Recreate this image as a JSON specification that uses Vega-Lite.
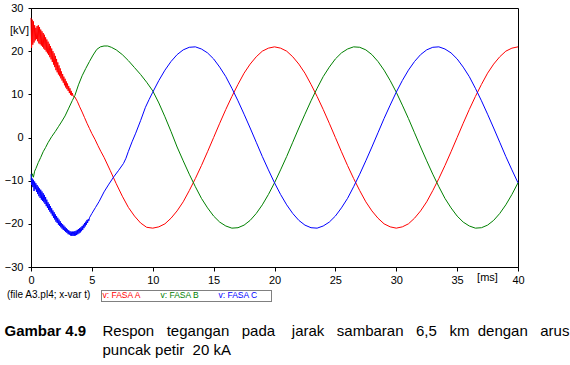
{
  "$schema": "https://vega.github.io/schema/vega-lite/v6.json",
  "width": 487,
  "height": 259,
  "autosize": {"type": "none"},
  "padding": {"left": 31, "top": 8, "right": 52, "bottom": 98},
  "background": "white",
  "config": {
    "view": {"stroke": "black", "strokeWidth": 1},
    "font": "Liberation Sans",
    "axis": {"labelFont": "Liberation Sans", "labelFontSize": 11, "labelColor": "black", "tickColor": "black", "domainColor": "black", "grid": false, "titleColor": "black", "titleFont": "Liberation Sans"}
  },
  "title": {"text": "(file A3.pl4; x-var t)", "orient": "top", "anchor": "start", "frame": "group", "dx": -24, "dy": 306, "offset": 0, "baseline": "alphabetic", "font": "Liberation Sans", "fontSize": 10, "fontWeight": "normal", "color": "black"},
  "datasets": {
    "w": [
      {"t":0,"v":27.7,"s":"A"},{"t":0.05,"v":20.8,"s":"A"},{"t":0.1,"v":27.3,"s":"A"},{"t":0.15,"v":21.5,"s":"A"},{"t":0.2,"v":26.9,"s":"A"},{"t":0.25,"v":22.0,"s":"A"},{"t":0.3,"v":26.0,"s":"A"},{"t":0.35,"v":22.5,"s":"A"},{"t":0.4,"v":25.4,"s":"A"},{"t":0.45,"v":22.8,"s":"A"},{"t":0.5,"v":25.8,"s":"A"},{"t":0.55,"v":22.3,"s":"A"},{"t":0.6,"v":26.0,"s":"A"},{"t":0.65,"v":21.8,"s":"A"},{"t":0.7,"v":25.6,"s":"A"},{"t":0.75,"v":21.6,"s":"A"},{"t":0.8,"v":25.0,"s":"A"},{"t":0.85,"v":21.3,"s":"A"},{"t":0.9,"v":24.6,"s":"A"},{"t":0.95,"v":21.0,"s":"A"},{"t":1.0,"v":24.2,"s":"A"},{"t":1.05,"v":20.6,"s":"A"},{"t":1.1,"v":23.8,"s":"A"},{"t":1.15,"v":20.3,"s":"A"},{"t":1.2,"v":23.2,"s":"A"},{"t":1.25,"v":19.9,"s":"A"},{"t":1.3,"v":22.7,"s":"A"},{"t":1.35,"v":19.5,"s":"A"},{"t":1.4,"v":22.2,"s":"A"},{"t":1.45,"v":19.1,"s":"A"},{"t":1.5,"v":21.7,"s":"A"},{"t":1.55,"v":18.6,"s":"A"},{"t":1.6,"v":21.2,"s":"A"},{"t":1.65,"v":18.1,"s":"A"},{"t":1.7,"v":20.6,"s":"A"},{"t":1.75,"v":17.5,"s":"A"},{"t":1.8,"v":20.0,"s":"A"},{"t":1.85,"v":16.9,"s":"A"},{"t":1.9,"v":19.5,"s":"A"},{"t":1.95,"v":16.3,"s":"A"},{"t":2.0,"v":18.9,"s":"A"},{"t":2.05,"v":15.6,"s":"A"},{"t":2.1,"v":18.2,"s":"A"},{"t":2.15,"v":15.1,"s":"A"},{"t":2.2,"v":17.4,"s":"A"},{"t":2.25,"v":14.6,"s":"A"},{"t":2.3,"v":16.7,"s":"A"},{"t":2.35,"v":14.2,"s":"A"},{"t":2.4,"v":16.0,"s":"A"},{"t":2.45,"v":13.7,"s":"A"},{"t":2.5,"v":15.3,"s":"A"},{"t":2.55,"v":13.2,"s":"A"},{"t":2.6,"v":14.7,"s":"A"},{"t":2.65,"v":12.7,"s":"A"},{"t":2.7,"v":14.1,"s":"A"},{"t":2.75,"v":12.1,"s":"A"},{"t":2.8,"v":13.6,"s":"A"},{"t":2.85,"v":11.6,"s":"A"},{"t":2.9,"v":13.0,"s":"A"},{"t":2.95,"v":11.2,"s":"A"},{"t":3.0,"v":12.5,"s":"A"},{"t":3.05,"v":10.8,"s":"A"},{"t":3.1,"v":11.9,"s":"A"},{"t":3.15,"v":10.3,"s":"A"},{"t":3.2,"v":11.4,"s":"A"},{"t":3.25,"v":9.9,"s":"A"},{"t":3.3,"v":10.8,"s":"A"},{"t":3.35,"v":9.7,"s":"A"},{"t":3.4,"v":10.3,"s":"A"},{"t":3.45,"v":9.6,"s":"A"},
      {"t":3.6,"v":9.4,"s":"A"},{"t":3.8,"v":8.4,"s":"A"},{"t":4.0,"v":7.1,"s":"A"},{"t":4.2,"v":5.9,"s":"A"},{"t":4.4,"v":4.6,"s":"A"},{"t":4.6,"v":3.3,"s":"A"},{"t":4.8,"v":2.1,"s":"A"},{"t":5.0,"v":0.9,"s":"A"},{"t":5.25,"v":-0.4,"s":"A"},{"t":5.5,"v":-1.9,"s":"A"},{"t":5.75,"v":-3.3,"s":"A"},{"t":6.0,"v":-4.6,"s":"A"},{"t":6.5,"v":-7.6,"s":"A"},{"t":7.0,"v":-10.7,"s":"A"},{"t":7.5,"v":-13.6,"s":"A"},{"t":8.0,"v":-16.2,"s":"A"},{"t":8.5,"v":-18.2,"s":"A"},{"t":9.0,"v":-19.8,"s":"A"},{"t":9.5,"v":-20.8,"s":"A"},
      {"t":10,"v":-21,"s":"A"},{"t":10.5,"v":-20.7,"s":"A"},{"t":11,"v":-20.0,"s":"A"},{"t":11.5,"v":-18.7,"s":"A"},{"t":12,"v":-17.0,"s":"A"},{"t":12.5,"v":-14.9,"s":"A"},{"t":13,"v":-12.3,"s":"A"},{"t":13.5,"v":-9.5,"s":"A"},{"t":14,"v":-6.5,"s":"A"},{"t":14.5,"v":-3.3,"s":"A"},{"t":15,"v":0,"s":"A"},{"t":15.5,"v":3.3,"s":"A"},{"t":16,"v":6.5,"s":"A"},{"t":16.5,"v":9.5,"s":"A"},{"t":17,"v":12.3,"s":"A"},{"t":17.5,"v":14.9,"s":"A"},{"t":18,"v":17.0,"s":"A"},{"t":18.5,"v":18.7,"s":"A"},{"t":19,"v":20.0,"s":"A"},{"t":19.5,"v":20.7,"s":"A"},{"t":20,"v":21,"s":"A"},{"t":20.5,"v":20.7,"s":"A"},{"t":21,"v":20.0,"s":"A"},{"t":21.5,"v":18.7,"s":"A"},{"t":22,"v":17.0,"s":"A"},{"t":22.5,"v":14.9,"s":"A"},{"t":23,"v":12.3,"s":"A"},{"t":23.5,"v":9.5,"s":"A"},{"t":24,"v":6.5,"s":"A"},{"t":24.5,"v":3.3,"s":"A"},{"t":25,"v":0,"s":"A"},{"t":25.5,"v":-3.3,"s":"A"},{"t":26,"v":-6.5,"s":"A"},{"t":26.5,"v":-9.5,"s":"A"},{"t":27,"v":-12.3,"s":"A"},{"t":27.5,"v":-14.9,"s":"A"},{"t":28,"v":-17.0,"s":"A"},{"t":28.5,"v":-18.7,"s":"A"},{"t":29,"v":-20.0,"s":"A"},{"t":29.5,"v":-20.7,"s":"A"},{"t":30,"v":-21,"s":"A"},{"t":30.5,"v":-20.7,"s":"A"},{"t":31,"v":-20.0,"s":"A"},{"t":31.5,"v":-18.7,"s":"A"},{"t":32,"v":-17.0,"s":"A"},{"t":32.5,"v":-14.9,"s":"A"},{"t":33,"v":-12.3,"s":"A"},{"t":33.5,"v":-9.5,"s":"A"},{"t":34,"v":-6.5,"s":"A"},{"t":34.5,"v":-3.3,"s":"A"},{"t":35,"v":0,"s":"A"},{"t":35.5,"v":3.3,"s":"A"},{"t":36,"v":6.5,"s":"A"},{"t":36.5,"v":9.5,"s":"A"},{"t":37,"v":12.3,"s":"A"},{"t":37.5,"v":14.9,"s":"A"},{"t":38,"v":17.0,"s":"A"},{"t":38.5,"v":18.7,"s":"A"},{"t":39,"v":20.0,"s":"A"},{"t":39.5,"v":20.7,"s":"A"},{"t":40,"v":21,"s":"A"},

      {"t":0,"v":-9.8,"s":"B"},{"t":0.1,"v":-8.4,"s":"B"},{"t":0.2,"v":-9.2,"s":"B"},{"t":0.3,"v":-7.8,"s":"B"},{"t":0.4,"v":-7.2,"s":"B"},{"t":0.6,"v":-5.8,"s":"B"},{"t":0.8,"v":-4.6,"s":"B"},{"t":1.0,"v":-3.3,"s":"B"},{"t":1.2,"v":-2.3,"s":"B"},{"t":1.4,"v":-1.2,"s":"B"},{"t":1.7,"v":0.2,"s":"B"},{"t":2.0,"v":1.4,"s":"B"},{"t":2.25,"v":2.5,"s":"B"},{"t":2.5,"v":3.6,"s":"B"},{"t":2.8,"v":5.0,"s":"B"},{"t":3.1,"v":6.8,"s":"B"},{"t":3.4,"v":8.6,"s":"B"},{"t":3.6,"v":9.7,"s":"B"},{"t":3.9,"v":12.2,"s":"B"},{"t":4.2,"v":14.3,"s":"B"},{"t":4.5,"v":16.0,"s":"B"},{"t":4.8,"v":17.6,"s":"B"},{"t":5.1,"v":19.1,"s":"B"},{"t":5.4,"v":20.4,"s":"B"},{"t":5.7,"v":21.0,"s":"B"},{"t":6.0,"v":21.2,"s":"B"},{"t":6.3,"v":21.2,"s":"B"},{"t":6.6,"v":20.9,"s":"B"},{"t":7.0,"v":20.3,"s":"B"},{"t":7.5,"v":19.2,"s":"B"},{"t":8.0,"v":17.8,"s":"B"},{"t":8.5,"v":16.2,"s":"B"},{"t":9.0,"v":14.6,"s":"B"},{"t":9.5,"v":12.8,"s":"B"},{"t":10.0,"v":10.8,"s":"B"},{"t":10.5,"v":8.0,"s":"B"},{"t":11.0,"v":4.8,"s":"B"},{"t":11.5,"v":1.4,"s":"B"},
      {"t":12,"v":-2.2,"s":"B"},{"t":12.5,"v":-5.4,"s":"B"},{"t":13,"v":-8.5,"s":"B"},{"t":13.5,"v":-11.4,"s":"B"},{"t":14,"v":-14.1,"s":"B"},{"t":14.5,"v":-16.3,"s":"B"},{"t":15,"v":-18.2,"s":"B"},{"t":15.5,"v":-19.6,"s":"B"},{"t":16,"v":-20.5,"s":"B"},{"t":16.5,"v":-21.0,"s":"B"},{"t":17,"v":-20.9,"s":"B"},{"t":17.5,"v":-20.3,"s":"B"},{"t":18,"v":-19.2,"s":"B"},{"t":18.5,"v":-17.6,"s":"B"},{"t":19,"v":-15.6,"s":"B"},{"t":19.5,"v":-13.2,"s":"B"},{"t":20,"v":-10.5,"s":"B"},{"t":20.5,"v":-7.5,"s":"B"},{"t":21,"v":-4.4,"s":"B"},{"t":21.5,"v":-1.1,"s":"B"},{"t":22,"v":2.2,"s":"B"},{"t":22.5,"v":5.4,"s":"B"},{"t":23,"v":8.5,"s":"B"},{"t":23.5,"v":11.4,"s":"B"},{"t":24,"v":14.1,"s":"B"},{"t":24.5,"v":16.3,"s":"B"},{"t":25,"v":18.2,"s":"B"},{"t":25.5,"v":19.6,"s":"B"},{"t":26,"v":20.5,"s":"B"},{"t":26.5,"v":21.0,"s":"B"},{"t":27,"v":20.9,"s":"B"},{"t":27.5,"v":20.3,"s":"B"},{"t":28,"v":19.2,"s":"B"},{"t":28.5,"v":17.6,"s":"B"},{"t":29,"v":15.6,"s":"B"},{"t":29.5,"v":13.2,"s":"B"},{"t":30,"v":10.5,"s":"B"},{"t":30.5,"v":7.5,"s":"B"},{"t":31,"v":4.4,"s":"B"},{"t":31.5,"v":1.1,"s":"B"},{"t":32,"v":-2.2,"s":"B"},{"t":32.5,"v":-5.4,"s":"B"},{"t":33,"v":-8.5,"s":"B"},{"t":33.5,"v":-11.4,"s":"B"},{"t":34,"v":-14.1,"s":"B"},{"t":34.5,"v":-16.3,"s":"B"},{"t":35,"v":-18.2,"s":"B"},{"t":35.5,"v":-19.6,"s":"B"},{"t":36,"v":-20.5,"s":"B"},{"t":36.5,"v":-21.0,"s":"B"},{"t":37,"v":-20.9,"s":"B"},{"t":37.5,"v":-20.3,"s":"B"},{"t":38,"v":-19.2,"s":"B"},{"t":38.5,"v":-17.6,"s":"B"},{"t":39,"v":-15.6,"s":"B"},{"t":39.5,"v":-13.2,"s":"B"},{"t":40,"v":-10.5,"s":"B"},

      {"t":0,"v":-8.5,"s":"C"},{"t":0.05,"v":-11.0,"s":"C"},{"t":0.1,"v":-9.5,"s":"C"},{"t":0.15,"v":-11.5,"s":"C"},{"t":0.2,"v":-9.8,"s":"C"},{"t":0.25,"v":-12.4,"s":"C"},{"t":0.3,"v":-10.2,"s":"C"},{"t":0.35,"v":-12.0,"s":"C"},{"t":0.4,"v":-10.6,"s":"C"},{"t":0.45,"v":-12.6,"s":"C"},{"t":0.5,"v":-11.0,"s":"C"},{"t":0.55,"v":-13.1,"s":"C"},{"t":0.6,"v":-11.4,"s":"C"},{"t":0.65,"v":-13.6,"s":"C"},{"t":0.7,"v":-11.8,"s":"C"},{"t":0.75,"v":-14.0,"s":"C"},{"t":0.8,"v":-12.1,"s":"C"},{"t":0.85,"v":-14.4,"s":"C"},{"t":0.9,"v":-12.5,"s":"C"},{"t":0.95,"v":-14.7,"s":"C"},{"t":1.0,"v":-12.9,"s":"C"},{"t":1.05,"v":-15.0,"s":"C"},{"t":1.1,"v":-13.3,"s":"C"},{"t":1.15,"v":-15.4,"s":"C"},{"t":1.2,"v":-13.8,"s":"C"},{"t":1.25,"v":-15.9,"s":"C"},{"t":1.3,"v":-14.4,"s":"C"},{"t":1.35,"v":-16.3,"s":"C"},{"t":1.4,"v":-15.0,"s":"C"},{"t":1.45,"v":-16.8,"s":"C"},{"t":1.5,"v":-15.4,"s":"C"},{"t":1.55,"v":-17.2,"s":"C"},{"t":1.6,"v":-15.9,"s":"C"},{"t":1.65,"v":-17.6,"s":"C"},{"t":1.7,"v":-16.4,"s":"C"},{"t":1.75,"v":-18.1,"s":"C"},{"t":1.8,"v":-16.9,"s":"C"},{"t":1.85,"v":-18.6,"s":"C"},{"t":1.9,"v":-17.3,"s":"C"},{"t":1.95,"v":-19.0,"s":"C"},{"t":2.0,"v":-17.8,"s":"C"},{"t":2.05,"v":-19.5,"s":"C"},{"t":2.1,"v":-18.2,"s":"C"},{"t":2.15,"v":-19.8,"s":"C"},{"t":2.2,"v":-18.6,"s":"C"},{"t":2.25,"v":-20.2,"s":"C"},{"t":2.3,"v":-19.0,"s":"C"},{"t":2.35,"v":-20.5,"s":"C"},{"t":2.4,"v":-19.4,"s":"C"},{"t":2.45,"v":-20.8,"s":"C"},{"t":2.5,"v":-19.8,"s":"C"},{"t":2.55,"v":-21.1,"s":"C"},{"t":2.6,"v":-20.1,"s":"C"},{"t":2.65,"v":-21.4,"s":"C"},{"t":2.7,"v":-20.4,"s":"C"},{"t":2.75,"v":-21.6,"s":"C"},{"t":2.8,"v":-20.7,"s":"C"},{"t":2.85,"v":-21.9,"s":"C"},{"t":2.9,"v":-21.0,"s":"C"},{"t":2.95,"v":-22.1,"s":"C"},{"t":3.0,"v":-21.3,"s":"C"},{"t":3.05,"v":-22.4,"s":"C"},{"t":3.1,"v":-21.5,"s":"C"},{"t":3.15,"v":-22.5,"s":"C"},{"t":3.2,"v":-21.7,"s":"C"},{"t":3.25,"v":-22.7,"s":"C"},{"t":3.3,"v":-21.8,"s":"C"},{"t":3.35,"v":-22.8,"s":"C"},{"t":3.4,"v":-21.8,"s":"C"},{"t":3.45,"v":-22.8,"s":"C"},{"t":3.5,"v":-21.8,"s":"C"},{"t":3.55,"v":-22.8,"s":"C"},{"t":3.6,"v":-21.7,"s":"C"},{"t":3.65,"v":-22.7,"s":"C"},{"t":3.7,"v":-21.6,"s":"C"},{"t":3.75,"v":-22.6,"s":"C"},{"t":3.8,"v":-21.4,"s":"C"},{"t":3.85,"v":-22.4,"s":"C"},{"t":3.9,"v":-21.2,"s":"C"},{"t":3.95,"v":-22.2,"s":"C"},{"t":4.0,"v":-21.0,"s":"C"},{"t":4.05,"v":-22.0,"s":"C"},{"t":4.1,"v":-20.8,"s":"C"},{"t":4.15,"v":-21.7,"s":"C"},{"t":4.2,"v":-20.5,"s":"C"},{"t":4.25,"v":-21.4,"s":"C"},{"t":4.3,"v":-20.2,"s":"C"},{"t":4.35,"v":-21.0,"s":"C"},{"t":4.4,"v":-19.8,"s":"C"},{"t":4.45,"v":-20.6,"s":"C"},{"t":4.5,"v":-19.5,"s":"C"},{"t":4.55,"v":-20.2,"s":"C"},{"t":4.6,"v":-19.1,"s":"C"},{"t":4.65,"v":-19.8,"s":"C"},{"t":4.7,"v":-18.9,"s":"C"},{"t":4.75,"v":-19.3,"s":"C"},
      {"t":4.8,"v":-18.6,"s":"C"},{"t":5.0,"v":-17.6,"s":"C"},{"t":5.3,"v":-16.2,"s":"C"},{"t":5.6,"v":-14.8,"s":"C"},{"t":6.0,"v":-12.6,"s":"C"},{"t":6.4,"v":-10.8,"s":"C"},{"t":6.8,"v":-9.1,"s":"C"},{"t":7.2,"v":-7.6,"s":"C"},{"t":7.6,"v":-6.0,"s":"C"},{"t":7.8,"v":-4.8,"s":"C"},{"t":8.0,"v":-3.2,"s":"C"},{"t":8.3,"v":-1.0,"s":"C"},{"t":8.6,"v":1.0,"s":"C"},{"t":9.0,"v":3.9,"s":"C"},{"t":9.4,"v":7.0,"s":"C"},{"t":9.7,"v":8.8,"s":"C"},{"t":10.0,"v":10.5,"s":"C"},{"t":10.5,"v":13.2,"s":"C"},{"t":11,"v":15.6,"s":"C"},{"t":11.5,"v":17.6,"s":"C"},{"t":12,"v":19.2,"s":"C"},{"t":12.5,"v":20.3,"s":"C"},{"t":13,"v":20.9,"s":"C"},{"t":13.5,"v":21.0,"s":"C"},{"t":14,"v":20.5,"s":"C"},{"t":14.5,"v":19.6,"s":"C"},{"t":15,"v":18.2,"s":"C"},{"t":15.5,"v":16.3,"s":"C"},{"t":16,"v":14.1,"s":"C"},{"t":16.5,"v":11.4,"s":"C"},{"t":17,"v":8.5,"s":"C"},{"t":17.5,"v":5.4,"s":"C"},{"t":18,"v":2.2,"s":"C"},{"t":18.5,"v":-1.1,"s":"C"},{"t":19,"v":-4.4,"s":"C"},{"t":19.5,"v":-7.5,"s":"C"},{"t":20,"v":-10.5,"s":"C"},{"t":20.5,"v":-13.2,"s":"C"},{"t":21,"v":-15.6,"s":"C"},{"t":21.5,"v":-17.6,"s":"C"},{"t":22,"v":-19.2,"s":"C"},{"t":22.5,"v":-20.3,"s":"C"},{"t":23,"v":-20.9,"s":"C"},{"t":23.5,"v":-21.0,"s":"C"},{"t":24,"v":-20.5,"s":"C"},{"t":24.5,"v":-19.6,"s":"C"},{"t":25,"v":-18.2,"s":"C"},{"t":25.5,"v":-16.3,"s":"C"},{"t":26,"v":-14.1,"s":"C"},{"t":26.5,"v":-11.4,"s":"C"},{"t":27,"v":-8.5,"s":"C"},{"t":27.5,"v":-5.4,"s":"C"},{"t":28,"v":-2.2,"s":"C"},{"t":28.5,"v":1.1,"s":"C"},{"t":29,"v":4.4,"s":"C"},{"t":29.5,"v":7.5,"s":"C"},{"t":30,"v":10.5,"s":"C"},{"t":30.5,"v":13.2,"s":"C"},{"t":31,"v":15.6,"s":"C"},{"t":31.5,"v":17.6,"s":"C"},{"t":32,"v":19.2,"s":"C"},{"t":32.5,"v":20.3,"s":"C"},{"t":33,"v":20.9,"s":"C"},{"t":33.5,"v":21.0,"s":"C"},{"t":34,"v":20.5,"s":"C"},{"t":34.5,"v":19.6,"s":"C"},{"t":35,"v":18.2,"s":"C"},{"t":35.5,"v":16.3,"s":"C"},{"t":36,"v":14.1,"s":"C"},{"t":36.5,"v":11.4,"s":"C"},{"t":37,"v":8.5,"s":"C"},{"t":37.5,"v":5.4,"s":"C"},{"t":38,"v":2.2,"s":"C"},{"t":38.5,"v":-1.1,"s":"C"},{"t":39,"v":-4.4,"s":"C"},{"t":39.5,"v":-7.5,"s":"C"},{"t":40,"v":-10.5,"s":"C"}
    ]
  },
  "layer": [
    {
      "data": {"name": "w"},
      "mark": {"type": "line", "strokeWidth": 1},
      "encoding": {
        "x": {"field": "t", "type": "quantitative", "scale": {"domain": [0, 40], "nice": false, "zero": false},
          "axis": {"values": [0,5,10,15,20,25,30,35,40], "labelFlush": false, "tickSize": 4, "labelPadding": 3, "title": "[ms]", "titleX": 456, "titleY": 10, "titleAlign": "center", "titleBaseline": "middle", "titleFontSize": 11, "titleFontWeight": "normal"}},
        "y": {"field": "v", "type": "quantitative", "scale": {"domain": [-30, 30], "nice": false, "zero": false},
          "axis": {"values": [-30,-20,-10,0,10,20,30], "tickSize": 3, "labelPadding": 5, "title": "[kV]", "titleAngle": 0, "titleX": -12, "titleY": 22, "titleAlign": "center", "titleBaseline": "middle", "titleFontSize": 11, "titleFontWeight": "normal"}},
        "color": {"field": "s", "type": "nominal", "scale": {"domain": ["A", "B", "C"], "range": ["#ff0000", "#008000", "#0000ff"]},
          "legend": {"orient": "none", "legendX": 70, "legendY": 282, "direction": "horizontal", "title": "\u00a0", "titleOrient": "right", "titleFontSize": 8.5, "titlePadding": 12, "padding": 1, "strokeColor": "black", "symbolType": "circle", "symbolSize": 0, "symbolStrokeWidth": 0, "symbolOpacity": 0, "labelOffset": 0, "labelFontSize": 8.5, "labelFont": "Liberation Sans", "columnPadding": 18, "labelExpr": "'v: FASA ' + datum.label",
            "encode": {"legend": {"update": {"strokeDash": {"value": [1, 1]}}}, "labels": {"update": {"fill": {"scale": "color", "field": "value"}, "dx": {"value": -8}}}}}}
      }
    },
    {
      "data": {"name": "w"},
      "mark": {"type": "line", "opacity": 0},
      "encoding": {
        "x": {"field": "t", "type": "quantitative", "scale": {"domain": [0, 40], "nice": false, "zero": false},
          "axis": {"orient": "top", "domain": false, "ticks": false, "labels": false, "grid": false,
            "title": ["Respon\u00a0\u00a0\u00a0tegangan\u00a0\u00a0\u00a0pada\u00a0\u00a0\u00a0\u00a0jarak\u00a0\u00a0\u00a0sambaran\u00a0\u00a0\u00a06,5\u00a0\u00a0\u00a0km\u00a0\u00a0dengan\u00a0\u00a0\u00a0arus", "puncak petir\u00a0\u00a020 kA"],
            "titleX": 71, "titleY": 327.5, "titleAlign": "left", "titleBaseline": "alphabetic", "titleAngle": 0, "titleFontSize": 15, "titleFontWeight": "normal", "titleLineHeight": 18.5, "titleLimit": 2000}},
        "y": {"field": "v", "type": "quantitative", "scale": {"domain": [-30, 30], "nice": false, "zero": false},
          "axis": {"orient": "right", "domain": false, "ticks": false, "labels": false, "grid": false,
            "title": "Gambar 4.9", "titleX": -514, "titleY": 327.5, "titleAngle": 0, "titleAlign": "left", "titleBaseline": "alphabetic", "titleFontSize": 15, "titleFontWeight": "bold", "titleLimit": 500}},
        "detail": {"field": "s", "type": "nominal"}
      }
    }
  ],
  "resolve": {"scale": {"x": "independent", "y": "independent"}}
}
